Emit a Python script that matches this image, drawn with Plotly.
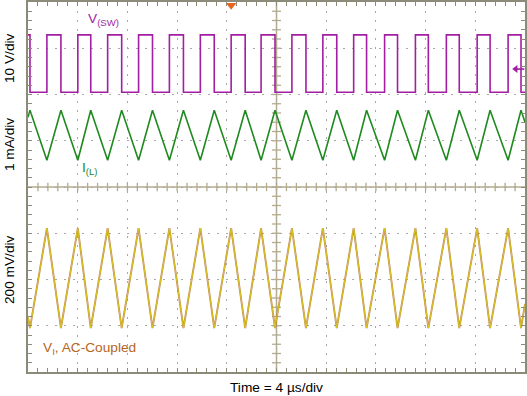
import plotly.graph_objects as go

# ---------------- data (read from the scope capture) ----------------
# time stamps of the switching edges / ripple vertices, in microseconds
t_us = [0.00, 0.16, 1.52, 2.65, 4.01, 5.05, 6.41, 7.54, 8.90, 10.02, 11.38,
        12.51, 13.87, 14.99, 16.35, 17.48, 18.76, 19.88, 21.24, 22.37, 23.73,
        24.85, 26.21, 27.25, 28.70, 29.74, 31.18, 32.22, 33.67, 34.71, 36.15,
        37.19, 38.64, 39.68, 40.00]

# switch-node voltage (V), held from each stamp to the next
v_sw = [12.4, 0.0, 12.4, 0.0, 12.4, 0.0, 12.4, 0.0, 12.4, 0.0, 12.4,
        0.0, 12.4, 0.0, 12.4, 0.0, 12.4, 0.0, 12.4, 0.0, 12.4,
        0.0, 12.4, 0.0, 12.4, 0.0, 12.4, 0.0, 12.4, 0.0, 12.4,
        0.0, 12.4, 0.0, 0.0]

# inductor current (mA)
i_l = [1.51, 1.66, 0.58, 1.66, 0.58, 1.66, 0.58, 1.66, 0.58, 1.66, 0.58,
       1.66, 0.58, 1.66, 0.58, 1.66, 0.58, 1.66, 0.58, 1.66, 0.58,
       1.66, 0.58, 1.66, 0.58, 1.66, 0.58, 1.66, 0.58, 1.66, 0.58,
       1.66, 0.58, 1.66, 1.40]

# input voltage ripple, AC-coupled (mV)
v_i = [-170, -216, 216, -216, 216, -216, 216, -216, 216, -216, 216,
       -216, 216, -216, 216, -216, 216, -216, 216, -216, 216,
       -216, 216, -216, 216, -216, 216, -216, 216, -216, 216,
       -216, 216, -216, -112]

trigger_time = [16.35]
trigger_level_div = [2.55]

# channel settings: (units per division, vertical offset in divisions)
SW_SCALE, SW_OFF = 10.0, 2.05
IL_SCALE, IL_OFF = 1.0, 0.0
VI_SCALE, VI_OFF = 200.0, -1.97

# ---------------- styling ----------------
PURPLE = "#a21ea2"
GREEN = "#1f8a1f"
BROWN = "#b06a28"
YELLOW = "#d8c41c"
LABEL_BROWN = "#b5661e"
FRAME = "#8c8a78"
CROSS = "#b3ab8c"
GRID = "#a8a8a8"
FONT = "Liberation Sans, Arial, sans-serif"
FS = 13.7

W, H = 527, 396
L, R, T, B = 28, 0, 2, 24
PW, PH = W - L - R, H - T - B


def px(xp):
    return (xp - L) / PW


def py(yp):
    return (H - B - yp) / PH


fig = go.Figure()

fig.add_trace(go.Scatter(
    x=t_us, y=[v / SW_SCALE + SW_OFF for v in v_sw], mode="lines",
    line=dict(color=PURPLE, width=1.6, shape="hv"), hoverinfo="skip"))

fig.add_trace(go.Scatter(
    x=t_us, y=[i / IL_SCALE + IL_OFF for i in i_l], mode="lines",
    line=dict(color=GREEN, width=1.6), hoverinfo="skip"))

vi_div = [v / VI_SCALE + VI_OFF for v in v_i]
fig.add_trace(go.Scatter(
    x=t_us, y=vi_div, mode="lines",
    line=dict(color=BROWN, width=1.9), opacity=0.75, hoverinfo="skip"))
fig.add_trace(go.Scatter(
    x=t_us, y=vi_div, mode="lines",
    line=dict(color=YELLOW, width=1.0), hoverinfo="skip"))

# trigger position marker on top edge
fig.add_trace(go.Scatter(
    x=trigger_time, y=[3.93], mode="markers", cliponaxis=False,
    marker=dict(symbol="triangle-down", size=9, color="#e8641e"),
    hoverinfo="skip"))

# ---------------- centre crosshair with ticks ----------------
shapes = [
    dict(type="line", xref="x", yref="y", x0=20, x1=20, y0=-4, y1=4,
         line=dict(color=CROSS, width=1.5), layer="below"),
    dict(type="line", xref="x", yref="y", x0=0, x1=40, y0=0, y1=0,
         line=dict(color=CROSS, width=1.5), layer="below"),
    # trigger-level arrow stem on right edge
    dict(type="line", xref="x", yref="y", x0=39.3, x1=39.95,
         y0=trigger_level_div[0], y1=trigger_level_div[0],
         line=dict(color=PURPLE, width=1.6)),
]
for k in range(1, 50):
    xv = k * 0.8
    shapes.append(dict(type="line", xref="x", yref="y", x0=xv, x1=xv,
                       y0=-0.09, y1=0.09, line=dict(color=CROSS, width=1.3),
                       layer="below"))
for k in range(1, 40):
    yv = -4 + k * 0.2
    shapes.append(dict(type="line", xref="x", yref="y", x0=19.64, x1=20.36,
                       y0=yv, y1=yv, line=dict(color=CROSS, width=1.3),
                       layer="below"))

fig.add_trace(go.Scatter(
    x=[39.25], y=trigger_level_div, mode="markers", cliponaxis=False,
    marker=dict(symbol="triangle-left", size=7, color=PURPLE),
    hoverinfo="skip"))

annotations = [
    dict(text="V<sub>(SW)</sub>", x=px(86), y=py(20), xref="paper",
         yref="paper", xanchor="left", yanchor="middle", showarrow=False,
         font=dict(family=FONT, size=FS, color=PURPLE)),
    dict(text="I<sub>(L)</sub>", x=px(80), y=py(168), xref="paper",
         yref="paper", xanchor="left", yanchor="middle", showarrow=False,
         font=dict(family=FONT, size=FS, color=GREEN)),
    dict(text="V<sub>I</sub>, AC-Coupled", x=px(41), y=py(348),
         xref="paper", yref="paper", xanchor="left", yanchor="middle",
         showarrow=False, font=dict(family=FONT, size=FS, color=LABEL_BROWN)),
    dict(text="10 V/div", x=px(9), y=py(58), xref="paper", yref="paper",
         textangle=-90, showarrow=False, xanchor="center", yanchor="middle",
         font=dict(family=FONT, size=FS, color="#000")),
    dict(text="1 mA/div", x=px(9), y=py(145), xref="paper", yref="paper",
         textangle=-90, showarrow=False, xanchor="center", yanchor="middle",
         font=dict(family=FONT, size=FS, color="#000")),
    dict(text="200 mV/div", x=px(9), y=py(270), xref="paper", yref="paper",
         textangle=-90, showarrow=False, xanchor="center", yanchor="middle",
         font=dict(family=FONT, size=FS, color="#000")),
    dict(text="Time = 4 µs/div", x=px(277), y=py(387), xref="paper",
         yref="paper", showarrow=False, xanchor="center", yanchor="middle",
         font=dict(family=FONT, size=FS, color="#000")),
]

axis_common = dict(
    showticklabels=False, zeroline=False, showline=True, linecolor=FRAME,
    linewidth=1.5, mirror="allticks", ticks="inside", ticklen=4,
    tickcolor=FRAME, tickwidth=1, showgrid=True, gridcolor=GRID,
    gridwidth=1, griddash="1.5px,7.5px", fixedrange=True,
)

fig.update_layout(
    width=W, height=H, margin=dict(l=L, r=R, t=T, b=B),
    plot_bgcolor="white", paper_bgcolor="white", showlegend=False,
    xaxis=dict(range=[0, 40], tick0=0, dtick=4,
               minor=dict(dtick=0.8, ticks="inside", ticklen=4,
                          tickcolor=FRAME, showgrid=False),
               **axis_common),
    yaxis=dict(range=[-4, 4], tick0=-4, dtick=1,
               minor=dict(dtick=0.2, ticks="inside", ticklen=4,
                          tickcolor=FRAME, showgrid=False),
               **axis_common),
    shapes=shapes, annotations=annotations,
)

fig.write_html(
    "out.html",
    config={"displayModeBar": False},
    post_script="document.body.style.margin='0';"
                "document.body.style.padding='0';"
                "document.body.style.overflow='hidden';",
)
